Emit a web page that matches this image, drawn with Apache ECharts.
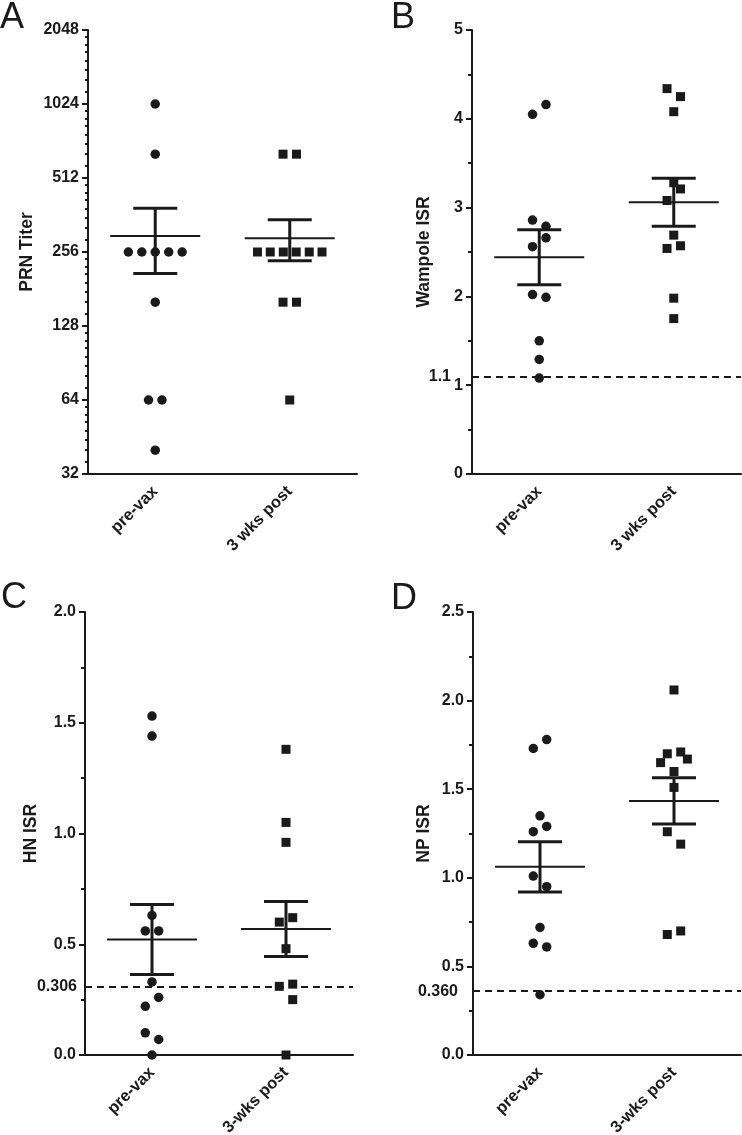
<!DOCTYPE html>
<html><head><meta charset="utf-8">
<script src="https://cdn.jsdelivr.net/npm/echarts@6/dist/echarts.min.js"></script>
<style>html,body{margin:0;padding:0;background:#fff}#c{width:742px;height:1135px}</style>
</head><body><div id="c"></div>
<script>
// ---------- DATA ----------
const catsAB = ['pre-vax', '3 wks post'];
const catsCD = ['pre-vax', '3-wks post'];

// Panel A: PRN titer
const prnPre = [1024, 640, 256, 256, 256, 256, 256, 160, 64, 64, 40];
const prnPreJit = [0, 0, -0.2, -0.1, 0, 0.1, 0.2, 0, -0.05, 0.05, 0];
const prnPost = [640, 640, 256, 256, 256, 256, 256, 256, 160, 160, 64];
const prnPostJit = [-0.05, 0.05, -0.24, -0.145, -0.048, 0.048, 0.145, 0.24, -0.05, 0.05, 0];
const prnMean = [297.5, 291];
const prnSem = [88, 55];

// Panel B: Wampole ISR
const wamPre = [4.16, 4.05, 2.86, 2.79, 2.66, 2.56, 2.02, 1.99, 1.50, 1.29, 1.08];
const wamPreJit = [0.05, -0.05, -0.05, 0.05, 0.05, -0.05, -0.05, 0.05, 0, 0, 0];
const wamPost = [4.34, 4.25, 4.08, 3.28, 3.21, 3.08, 2.69, 2.57, 2.54, 1.98, 1.75];
const wamPostJit = [-0.05, 0.05, 0, 0, 0.05, -0.05, 0, 0.05, -0.05, 0, 0];
const wamMean = [2.44, 3.06];
const wamSem = [0.31, 0.27];
const wamCut = 1.1;

// Panel C: HN ISR
const hnPre = [1.53, 1.44, 0.63, 0.56, 0.56, 0.33, 0.26, 0.22, 0.10, 0.07, 0.0];
const hnPreJit = [0, 0, 0, -0.05, 0.05, 0, 0.05, -0.05, -0.05, 0.05, 0];
const hnPost = [1.38, 1.05, 0.96, 0.62, 0.60, 0.48, 0.32, 0.31, 0.25, 0.0];
const hnPostJit = [0, 0, 0, 0.05, -0.05, 0, 0.05, -0.05, 0.05, 0];
const hnMean = [0.521, 0.569];
const hnSem = [0.158, 0.124];
const hnCut = 0.306;

// Panel D: NP ISR
const npPre = [1.78, 1.73, 1.35, 1.29, 1.26, 1.01, 0.95, 0.72, 0.63, 0.61, 0.34];
const npPreJit = [0.05, -0.05, 0, 0.05, -0.05, -0.05, 0.05, 0, -0.05, 0.05, 0];
const npPost = [2.06, 1.71, 1.70, 1.67, 1.65, 1.60, 1.51, 1.26, 1.19, 0.70, 0.68];
const npPostJit = [0, 0.05, -0.05, 0.1, -0.1, 0, 0, -0.05, 0.05, 0.05, -0.05];
const npMean = [1.062, 1.434];
const npSem = [0.142, 0.131];
const npCut = 0.360;

// ---------- STYLE / BUILD ----------
const INK = '#1a1a1a';
const FONT = 'Liberation Sans';
const chart = echarts.init(document.getElementById('c'), null, {renderer: 'canvas'});

const grids = [
  {left: 88, top: 30, width: 269, height: 444, outerBoundsMode: 'none', containLabel: false},
  {left: 472, top: 30, width: 269, height: 444, outerBoundsMode: 'none', containLabel: false},
  {left: 85, top: 612, width: 268, height: 443, outerBoundsMode: 'none', containLabel: false},
  {left: 473, top: 612, width: 268, height: 443, outerBoundsMode: 'none', containLabel: false}
];

const xAxes = [];
[catsAB, catsAB, catsCD, catsCD].forEach((cats, g) => {
  xAxes.push({
    type: 'category', gridIndex: g, data: cats, boundaryGap: true,
    axisLine: {lineStyle: {color: INK, width: 2}},
    axisTick: {alignWithLabel: true, length: 6, lineStyle: {color: INK, width: 2}},
    axisLabel: {rotate: 45, margin: 15, color: INK, fontFamily: FONT, fontWeight: 'bold', fontSize: 16.5, interval: 0},
    splitLine: {show: false}
  });
  xAxes.push({type: 'value', gridIndex: g, min: 0, max: 2, show: false});
});

const baseY = (g, name, gap) => ({
  gridIndex: g, name: name, nameLocation: 'middle', nameGap: gap,
  nameTextStyle: {color: INK, fontFamily: FONT, fontWeight: 'bold', fontSize: 17.5},
  axisLine: {show: true, lineStyle: {color: INK, width: 2}},
  axisTick: {show: true, length: 6, lineStyle: {color: INK, width: 2}},
  minorTick: {show: true, splitNumber: 2, length: 4, lineStyle: {color: INK, width: 2}},
  axisLabel: {margin: 9, color: INK, fontFamily: FONT, fontWeight: 'bold', fontSize: 16},
  splitLine: {show: false}, minorSplitLine: {show: false}
});

const yA = Object.assign(baseY(0, 'PRN Titer', 52), {type: 'log', logBase: 2, min: 32, max: 2048});
yA.minorTick = {show: true, splitNumber: 8, length: 3, lineStyle: {color: INK, width: 2}};
yA.axisLabel.formatter = v => String(Math.round(v));
const yB = Object.assign(baseY(1, 'Wampole ISR', 39), {type: 'value', min: 0, max: 5, interval: 1});
const yC = Object.assign(baseY(2, 'HN ISR', 45), {type: 'value', min: 0, max: 2, interval: 0.5});
yC.axisLabel.formatter = v => v.toFixed(1);
const yD = Object.assign(baseY(3, 'NP ISR', 40), {type: 'value', min: 0, max: 2.5, interval: 0.5});
yD.axisLabel.formatter = v => v.toFixed(1);

function pts(vals, jit, idx) { return vals.map((v, i) => [idx + 0.5 + jit[i], v]); }

function scatter(g, vals, jit, idx, sym, extra) {
  return Object.assign({
    type: 'scatter', xAxisIndex: g * 2 + 1, yAxisIndex: g,
    data: pts(vals, jit, idx), symbol: sym, symbolSize: sym === 'circle' ? 9.5 : 9,
    itemStyle: {color: INK, opacity: 1}, z: 2, silent: true
  }, extra || {});
}

function cutLine(value, label, dist) {
  return {
    silent: true, symbol: ['none', 'none'],
    lineStyle: {type: [7, 5], width: 2, color: INK},
    label: {show: true, position: 'start', formatter: label, distance: dist, color: INK,
            fontFamily: FONT, fontWeight: 'bold', fontSize: 16},
    data: [{yAxis: value}]
  };
}

function meanSem(g, means, sems) {
  return {
    type: 'custom', xAxisIndex: g * 2 + 1, yAxisIndex: g, z: 5, silent: true,
    data: means.map((m, i) => [i + 0.5, m, m - sems[i], m + sems[i]]),
    encode: {x: 0, y: [1, 2, 3]},
    renderItem(params, api) {
      const x = api.value(0);
      const pm = api.coord([x, api.value(1)]);
      const pl = api.coord([x, api.value(2)]);
      const ph = api.coord([x, api.value(3)]);
      const c = pm[0];
      const ln = (x1, y1, x2, y2, w) => ({type: 'line', shape: {x1, y1, x2, y2}, style: {stroke: INK, lineWidth: w}});
      return {type: 'group', children: [
        ln(c - 45, pm[1], c + 45, pm[1], 2),
        ln(c, pl[1], c, ph[1], 3),
        ln(c - 22, pl[1], c + 22, pl[1], 3),
        ln(c - 22, ph[1], c + 22, ph[1], 3)
      ]};
    }
  };
}

const series = [
  scatter(0, prnPre, prnPreJit, 0, 'circle'),
  scatter(0, prnPost, prnPostJit, 1, 'rect'),
  meanSem(0, prnMean, prnSem),
  scatter(1, wamPre, wamPreJit, 0, 'circle', {markLine: cutLine(wamCut, '1.1', 21)}),
  scatter(1, wamPost, wamPostJit, 1, 'rect'),
  meanSem(1, wamMean, wamSem),
  scatter(2, hnPre, hnPreJit, 0, 'circle', {markLine: cutLine(hnCut, '0.306', 8)}),
  scatter(2, hnPost, hnPostJit, 1, 'rect'),
  meanSem(2, hnMean, hnSem),
  scatter(3, npPre, npPreJit, 0, 'circle', {markLine: cutLine(npCut, '0.360', 15)}),
  scatter(3, npPost, npPostJit, 1, 'rect'),
  meanSem(3, npMean, npSem)
];

const letter = (t, x, y) => ({type: 'text', left: x, top: y,
  style: {text: t, font: '36px Liberation Sans', fill: INK}});

chart.setOption({
  animation: false,
  backgroundColor: '#fff',
  grid: grids,
  xAxis: xAxes,
  yAxis: [yA, yB, yC, yD],
  series: series,
  graphic: [letter('A', 0, 0), letter('B', 391, 0), letter('C', 1, 580), letter('D', 391, 581)]
});
</script></body></html>
